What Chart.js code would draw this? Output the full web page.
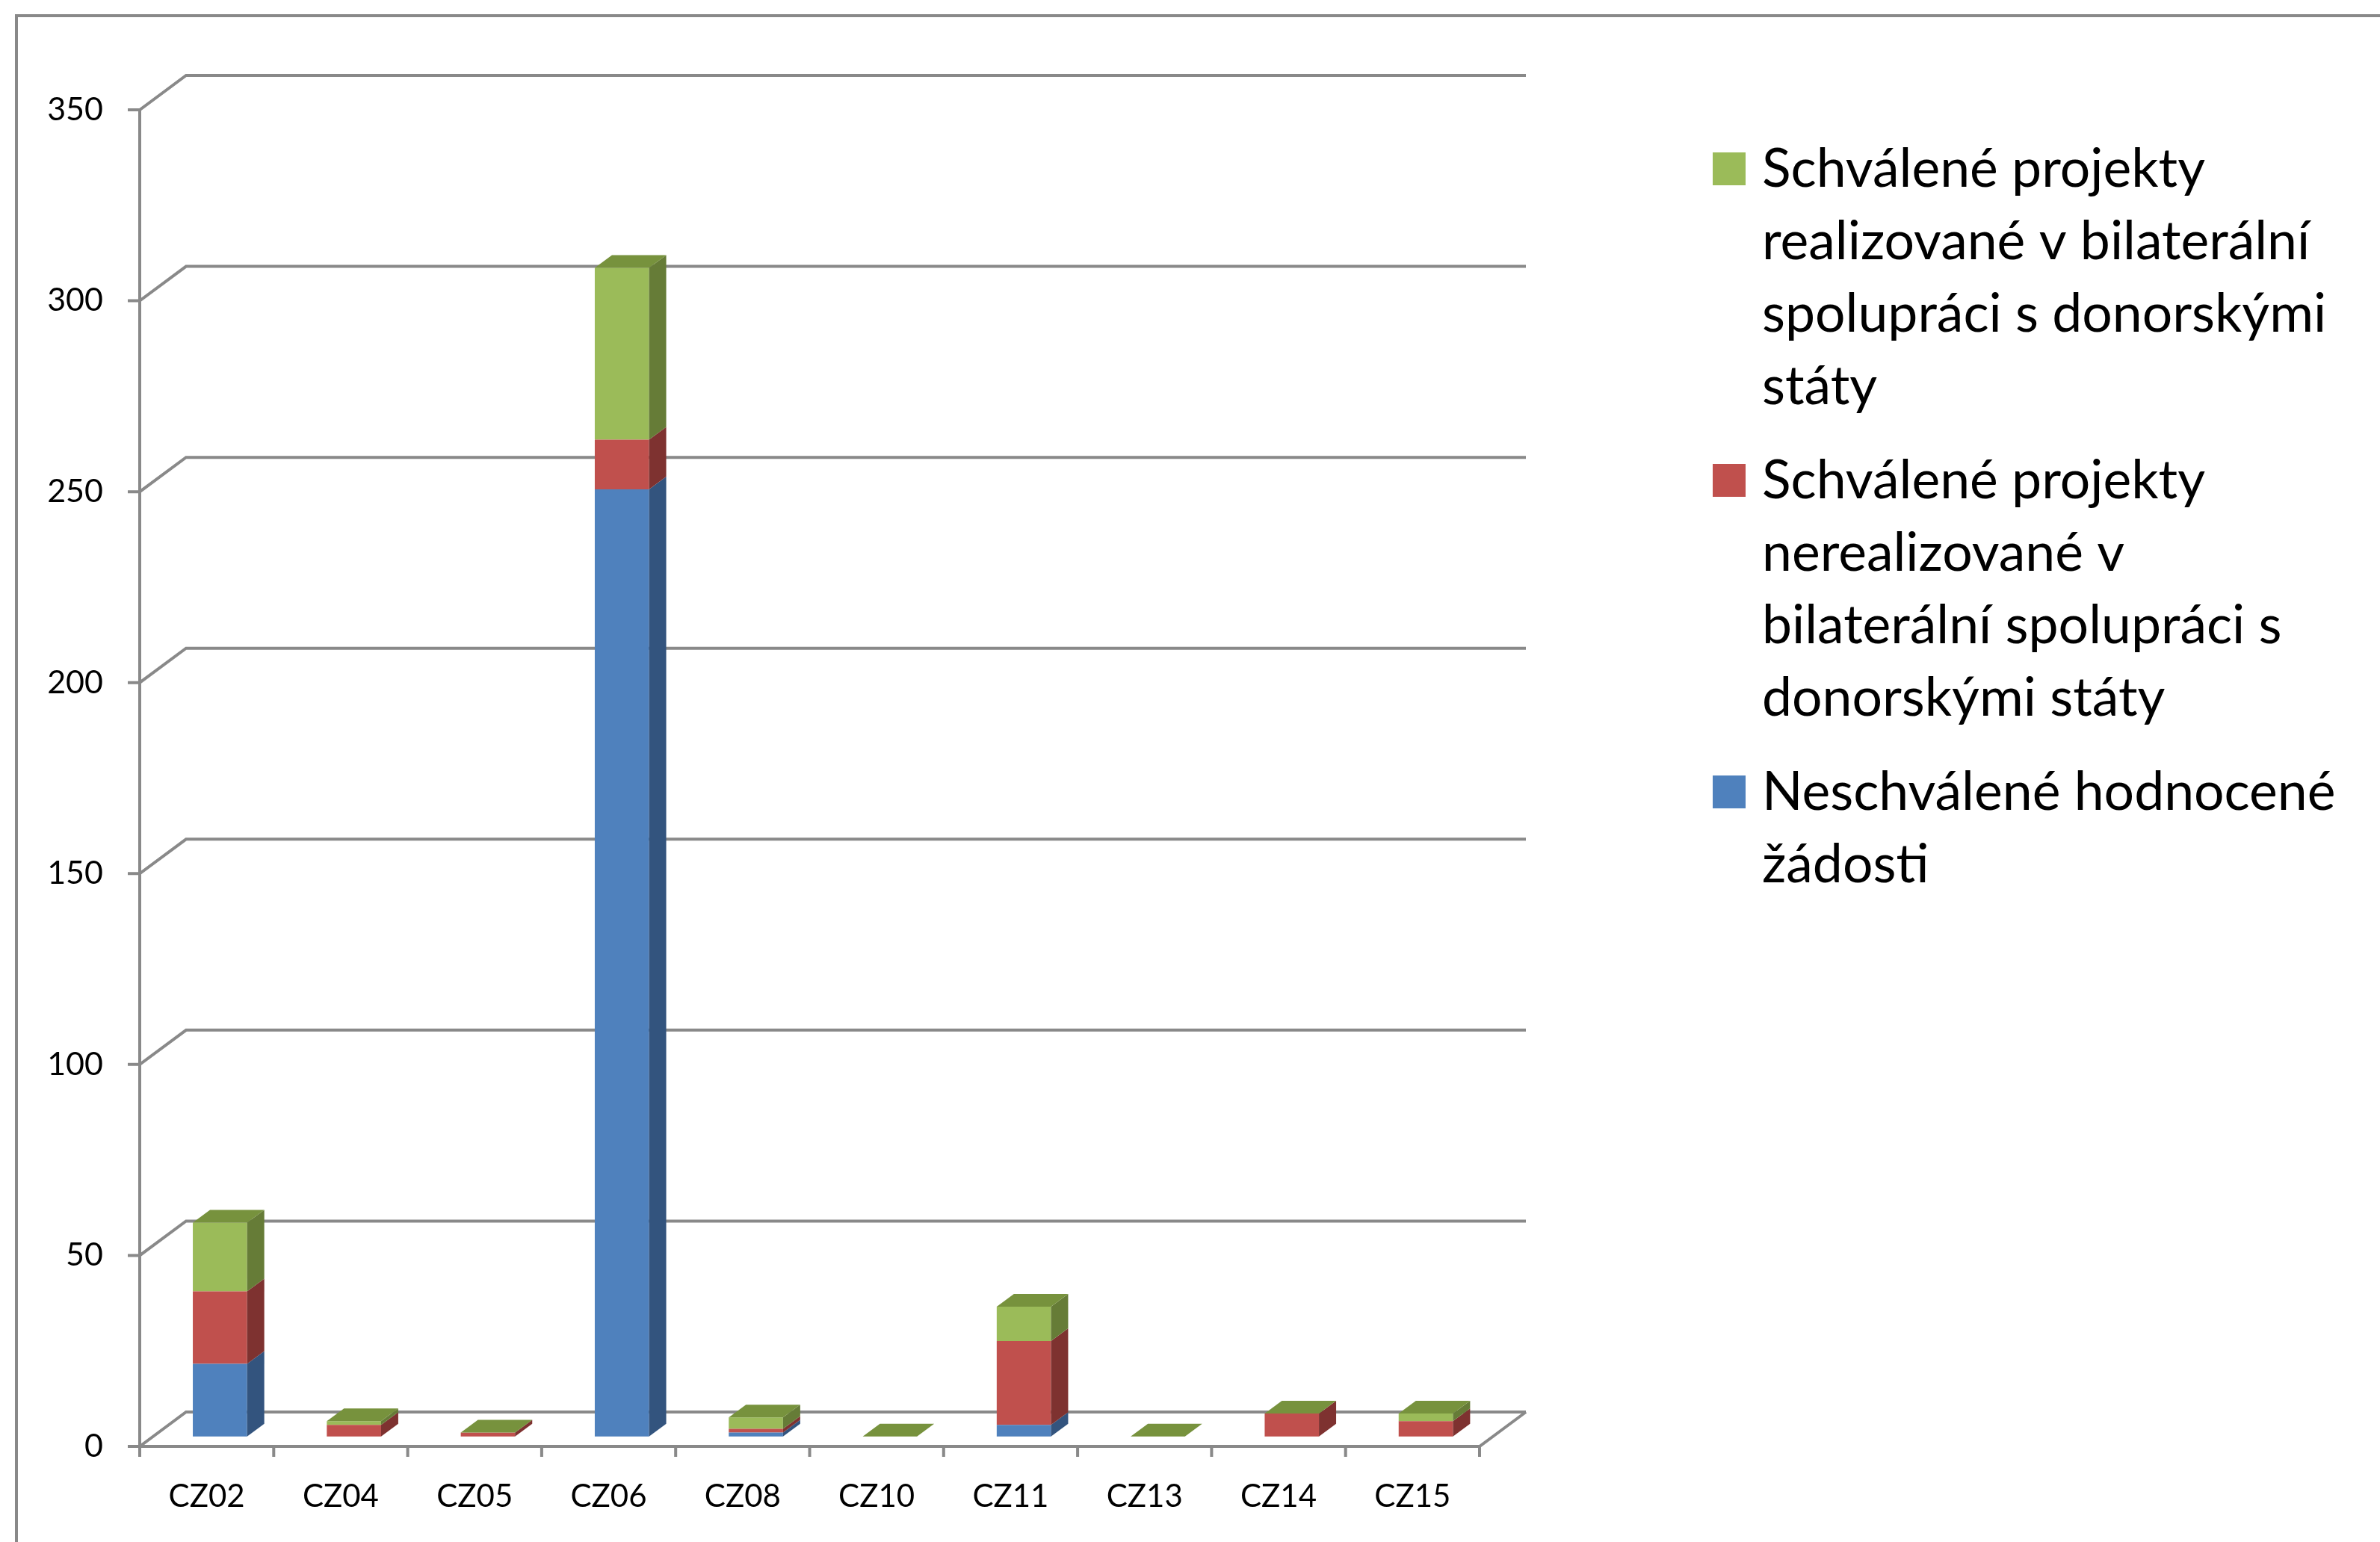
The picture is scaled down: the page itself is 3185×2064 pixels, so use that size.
<!DOCTYPE html>
<html>
<head>
<meta charset="utf-8">
<script src="https://cdn.jsdelivr.net/npm/chart.js@4.4.1/dist/chart.umd.min.js"></script>
<style>
html, body { margin: 0; padding: 0; background: #fff; overflow: hidden; }
#wrap { width: 3185px; height: 2064px; }
</style>
</head>
<body>
<div id="wrap"><canvas id="projectChartId" width="3185" height="2064"></canvas></div>
<script>
// data
var categories = ['CZ02', 'CZ04', 'CZ05', 'CZ06', 'CZ08', 'CZ10', 'CZ11', 'CZ13', 'CZ14', 'CZ15'];
var rejectedValues = [19, 0, 0, 248, 1, 0, 3, 0, 0, 0];
var notBilateralValues = [19, 3, 1, 13, 1, 0, 22, 0, 6, 4];
var bilateralValues = [18, 1, 0, 45, 3, 0, 9, 0, 0, 2];
var yMin = 0, yMax = 350, yStep = 50;

var seriesNames = [
    'Neschválené hodnocené žádosti',
    'Schválené projekty nerealizované v bilaterální spolupráci s donorskými státy',
    'Schválené projekty realizované v bilaterální spolupráci s donorskými státy'
];
// legend wrapping as in the picture (same order as seriesNames)
var legendLines = [
    ['Neschválené hodnocené', 'žádosti'],
    ['Schválené projekty', 'nerealizované v', 'bilaterální spolupráci s', 'donorskými státy'],
    ['Schválené projekty', 'realizované v bilaterální', 'spolupráci s donorskými', 'státy']
];

var frontColors = ['#4F81BD', '#C0504D', '#9BBB59'];
var sideColors = ['#33547E', '#7E3230', '#667C37'];
var topColor = '#77923D';
var lineColor = '#898989';

var wall = { dx: 62, dy: 46 };      // back wall offset
var barShift = { dx: 17.7, dy: 13.3 }; // bars sit a bit behind the front plane
var barDepth = { dx: 23, dy: 17 };

function drawFrame(chart) {
    var ctx = chart.ctx;
    var area = chart.chartArea;
    var yScale = chart.scales.y;
    var xScale = chart.scales.x;

    ctx.save();
    ctx.strokeStyle = lineColor;
    ctx.lineWidth = 4;
    ctx.lineJoin = 'miter';

    yScale.ticks.forEach(function(t) {
        var py = yScale.getPixelForValue(t.value);
        ctx.beginPath();
        ctx.moveTo(area.left - 16, py);
        ctx.lineTo(area.left, py);
        ctx.lineTo(area.left + wall.dx, py - wall.dy);
        ctx.lineTo(area.right + wall.dx, py - wall.dy);
        ctx.stroke();
    });

    ctx.beginPath();
    ctx.moveTo(area.left, area.top);
    ctx.lineTo(area.left, area.bottom);
    ctx.lineTo(area.right, area.bottom);
    ctx.lineTo(area.right + wall.dx, area.bottom - wall.dy);
    ctx.stroke();

    var half = (xScale.getPixelForValue(1) - xScale.getPixelForValue(0)) / 2;
    ctx.beginPath();
    for (var i = 0; i <= categories.length; i++) {
        var px = xScale.getPixelForValue(i) - half;
        ctx.moveTo(px, area.bottom);
        ctx.lineTo(px, area.bottom + 14);
    }
    ctx.stroke();
    ctx.restore();
}

function drawFaces(chart) {
    var ctx = chart.ctx;
    var n = chart.data.datasets.length;
    for (var d = 0; d < n; d++) {
        var meta = chart.getDatasetMeta(d);
        meta.data.forEach(function(bar, i) {
            var p = bar.getProps(['x', 'y', 'base', 'width'], true);
            var r = p.x + p.width / 2;
            var l = p.x - p.width / 2;
            if (p.base - p.y > 0.5) {
                ctx.fillStyle = sideColors[d];
                ctx.beginPath();
                ctx.moveTo(r, p.y);
                ctx.lineTo(r + barDepth.dx, p.y - barDepth.dy);
                ctx.lineTo(r + barDepth.dx, p.base - barDepth.dy);
                ctx.lineTo(r, p.base);
                ctx.closePath();
                ctx.fill();
            }
            if (d === n - 1) {
                ctx.fillStyle = topColor;
                ctx.beginPath();
                ctx.moveTo(l, p.y);
                ctx.lineTo(l + barDepth.dx, p.y - barDepth.dy);
                ctx.lineTo(r + barDepth.dx, p.y - barDepth.dy);
                ctx.lineTo(r, p.y);
                ctx.closePath();
                ctx.fill();
            }
        });
    }
}

function drawLegend(chart) {
    var ctx = chart.ctx;
    var boxX = 2292, boxSize = 44, textX = 2358;
    var baseline = 250, lineH = 97, itemGap = 29;
    ctx.save();
    ctx.font = '71.5px Lato';
    ctx.textBaseline = 'alphabetic';
    ctx.textAlign = 'left';
    for (var d = chart.data.datasets.length - 1; d >= 0; d--) {
        var ds = chart.data.datasets[d];
        ctx.fillStyle = ds.backgroundColor;
        ctx.fillRect(boxX, baseline - 46, boxSize, boxSize);
        ctx.fillStyle = '#000';
        legendLines[d].forEach(function(line, k) {
            ctx.fillText(line, textX, baseline + k * lineH);
        });
        baseline += legendLines[d].length * lineH + itemGap;
    }
    ctx.restore();
}

var pseudo3d = {
    id: 'pseudo3d',
    beforeDraw: function(chart) {
        var ctx = chart.ctx;
        ctx.save();
        ctx.fillStyle = '#fff';
        ctx.fillRect(0, 0, chart.width, chart.height);
        ctx.strokeStyle = lineColor;
        ctx.lineWidth = 4;
        ctx.strokeRect(22, 21, 5000, 5000);
        ctx.restore();
    },
    beforeDatasetsDraw: function(chart) {
        drawFrame(chart);
        chart.ctx.save();
        chart.ctx.translate(barShift.dx, -barShift.dy);
    },
    afterDatasetsDraw: function(chart) {
        drawFaces(chart);
        chart.ctx.restore();
        drawLegend(chart);
    }
};

function init() {
    var chartEl = document.getElementById('projectChartId').getContext('2d');
    var seriesValues = [rejectedValues, notBilateralValues, bilateralValues];
    var datasets = seriesValues.map(function(values, i) {
        return {
            label: seriesNames[i],
            data: values,
            backgroundColor: frontColors[i],
            borderWidth: 0,
            barPercentage: 0.405,
            categoryPercentage: 1,
            clip: false
        };
    });

    new Chart(chartEl, {
        type: 'bar',
        data: { labels: categories, datasets: datasets },
        plugins: [pseudo3d],
        options: {
            responsive: false,
            animation: false,
            devicePixelRatio: 1,
            layout: { padding: { top: 147, right: 1205, left: 0, bottom: 0 } },
            plugins: { legend: { display: false }, tooltip: { enabled: false } },
            scales: {
                x: {
                    stacked: true,
                    grid: { display: false, drawTicks: false },
                    border: { display: false },
                    ticks: { color: '#000', padding: 42, font: { family: 'Lato', size: 42 } },
                    afterFit: function(scale) { scale.height = 128; }
                },
                y: {
                    stacked: true,
                    min: yMin,
                    max: yMax,
                    grid: { display: false, drawTicks: false },
                    border: { display: false },
                    ticks: { stepSize: yStep, color: '#000', padding: 49, font: { family: 'Lato', size: 43 } },
                    afterFit: function(scale) { scale.width = 187; }
                }
            }
        }
    });
}

init();
</script>
</body>
</html>
